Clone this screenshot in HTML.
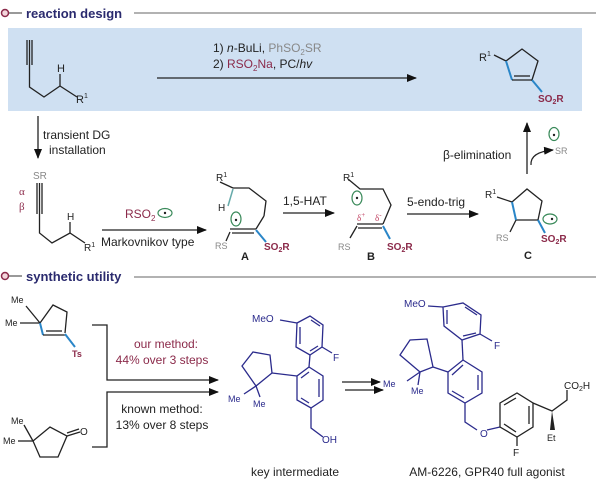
<!DOCTYPE html>
<html><head><meta charset="utf-8"><style>
html,body{margin:0;padding:0;background:#fff;}
svg{display:block;font-family:"Liberation Sans",sans-serif;}
</style></head><body>
<svg width="600" height="482" viewBox="0 0 600 482" xmlns="http://www.w3.org/2000/svg">
<defs>
<marker id="ah" markerWidth="10" markerHeight="8" refX="9" refY="4" orient="auto" markerUnits="userSpaceOnUse"><path d="M0,0 L10,4 L0,8 Z" fill="#111"/></marker>
</defs>
<rect width="600" height="482" fill="#fff"/>
<circle cx="5" cy="13" r="3.5" fill="#f3d6dc" stroke="#8b2a4a" stroke-width="1.5"/>
<line x1="9" y1="13" x2="22" y2="13" stroke="#555" stroke-width="1.2"/>
<text x="26" y="18" font-size="13" font-weight="bold" fill="#2a2a6e">reaction design</text>
<line x1="134" y1="13" x2="596" y2="13" stroke="#666" stroke-width="1"/>
<rect x="8" y="28" width="574" height="83" fill="#cfe0f2"/>
<g stroke="#222" stroke-width="1.3" fill="none">
<line x1="27" y1="40" x2="27" y2="65"/><line x1="29.5" y1="40" x2="29.5" y2="65"/><line x1="32" y1="40" x2="32" y2="65"/>
<polyline points="29.5,65 29.5,87 44,97 60,86 77,97"/>
<line x1="60" y1="74" x2="60" y2="86"/>
<line x1="157" y1="78" x2="416" y2="78" marker-end="url(#ah)"/>
</g>
<text x="57" y="72" font-size="11" fill="#222">H</text>
<text x="76" y="103" font-size="11" fill="#222">R<tspan font-size="7" dy="-5">1</tspan></text>
<text x="213" y="52" font-size="12" fill="#222">1) <tspan font-style="italic">n</tspan>-BuLi, <tspan fill="#888">PhSO<tspan font-size="8" dy="3">2</tspan><tspan dy="-3">SR</tspan></tspan></text>
<text x="213" y="68" font-size="12" fill="#222">2) <tspan fill="#8b2a4a">RSO<tspan font-size="8" dy="3">2</tspan><tspan dy="-3">Na</tspan></tspan>, PC/<tspan font-style="italic">hv</tspan></text>
<g stroke="#222" stroke-width="1.3" fill="none">
<polyline points="506,61 522,49 538,61 532,80"/>
<line x1="494" y1="55" x2="506" y2="61"/>
<line x1="514" y1="76" x2="530" y2="76"/>
</g>
<g stroke="#2a86c8" stroke-width="2" fill="none"><line x1="506" y1="61" x2="512" y2="80"/><line x1="532" y1="80" x2="542" y2="92"/></g>
<line x1="512" y1="80" x2="532" y2="80" stroke="#222" stroke-width="1.3"/>
<text x="479" y="61" font-size="11" fill="#222">R<tspan font-size="7" dy="-5">1</tspan></text>
<text x="538" y="102" font-size="10" font-weight="bold" fill="#8b2a4a">SO<tspan font-size="7" dy="2">2</tspan><tspan dy="-2">R</tspan></text>
<line x1="38" y1="116" x2="38" y2="158" stroke="#222" stroke-width="1.3" marker-end="url(#ah)"/>
<text x="43" y="139" font-size="12" fill="#222">transient DG</text>
<text x="49" y="154" font-size="12" fill="#222">installation</text>
<text x="33" y="179" font-size="10" fill="#888">SR</text>
<text x="19" y="195" font-size="11" fill="#8b2a4a" font-family="Liberation Serif,serif">α</text>
<text x="19" y="210" font-size="11" fill="#8b2a4a" font-family="Liberation Serif,serif">β</text>
<g stroke="#222" stroke-width="1.3" fill="none">
<line x1="37" y1="183" x2="37" y2="214"/><line x1="39.5" y1="183" x2="39.5" y2="214"/><line x1="42" y1="183" x2="42" y2="214"/>
<polyline points="39.5,214 39.5,233 52,243 70,233 85,243"/>
<line x1="70" y1="222" x2="70" y2="233"/>
<line x1="102" y1="230" x2="206" y2="230" marker-end="url(#ah)"/>
</g>
<text x="67" y="220" font-size="10" fill="#222">H</text>
<text x="84" y="251" font-size="10" fill="#222">R<tspan font-size="7" dy="-4">1</tspan></text>
<text x="125" y="218" font-size="12" fill="#8b2a4a">RSO<tspan font-size="8" dy="3">2</tspan></text>
<ellipse cx="165" cy="213" rx="7" ry="4.5" fill="none" stroke="#3a8a5a" stroke-width="1.2"/><circle cx="165" cy="213" r="1.2" fill="#222"/>
<text x="101" y="246" font-size="12" fill="#222">Markovnikov type</text>
<g stroke="#222" stroke-width="1.3" fill="none">
<polyline points="233,188 249,188 266,201 264,216"/>
<line x1="220" y1="182" x2="233" y2="188"/>
<line x1="230" y1="232" x2="226" y2="241"/>
</g>
<line x1="228" y1="206" x2="233" y2="189" stroke="#6aa" stroke-width="1.5"/>
<line x1="264" y1="216" x2="256" y2="229" stroke="#222" stroke-width="1.3"/>
<line x1="230" y1="229" x2="256" y2="229" stroke="#222" stroke-width="1.3"/>
<line x1="232" y1="233" x2="254" y2="233" stroke="#222" stroke-width="1.3"/>
<line x1="256" y1="230" x2="266" y2="242" stroke="#2a86c8" stroke-width="2"/>
<ellipse cx="236" cy="219" rx="5" ry="7" fill="none" stroke="#3a8a5a" stroke-width="1.2"/><circle cx="236" cy="220" r="1.2" fill="#222"/>
<text x="216" y="181" font-size="10" fill="#222">R<tspan font-size="7" dy="-4">1</tspan></text>
<text x="218" y="211" font-size="10" fill="#222">H</text>
<text x="215" y="249" font-size="9" fill="#888">RS</text>
<text x="264" y="250" font-size="10" font-weight="bold" fill="#8b2a4a">SO<tspan font-size="7" dy="2">2</tspan><tspan dy="-2">R</tspan></text>
<text x="241" y="260" font-size="11" font-weight="bold" fill="#222">A</text>
<line x1="283" y1="213" x2="334" y2="213" stroke="#222" stroke-width="1.3" marker-end="url(#ah)"/>
<text x="283" y="205" font-size="12" fill="#222">1,5-HAT</text>
<g stroke="#222" stroke-width="1.3" fill="none">
<polyline points="348,179 360,189 383,189 391,205 383,224"/>
<line x1="357" y1="224" x2="383" y2="224"/>
<line x1="358" y1="228" x2="382" y2="228"/>
<line x1="357" y1="226" x2="350" y2="238"/>
</g>
<line x1="383" y1="226" x2="390" y2="239" stroke="#2a86c8" stroke-width="2"/>
<ellipse cx="357" cy="198" rx="5" ry="7" fill="none" stroke="#3a8a5a" stroke-width="1.2"/><circle cx="357" cy="198" r="1.2" fill="#222"/>
<text x="343" y="181" font-size="10" fill="#222">R<tspan font-size="7" dy="-4">1</tspan></text>
<text x="357" y="221" font-size="9" fill="#c04060" font-family="Liberation Serif,serif">δ<tspan font-size="7" dy="-4">+</tspan></text>
<text x="375" y="221" font-size="9" fill="#c04060" font-family="Liberation Serif,serif">δ<tspan font-size="7" dy="-4">-</tspan></text>
<text x="338" y="250" font-size="9" fill="#888">RS</text>
<text x="387" y="250" font-size="10" font-weight="bold" fill="#8b2a4a">SO<tspan font-size="7" dy="2">2</tspan><tspan dy="-2">R</tspan></text>
<text x="367" y="260" font-size="11" font-weight="bold" fill="#222">B</text>
<line x1="407" y1="214" x2="478" y2="214" stroke="#222" stroke-width="1.3" marker-end="url(#ah)"/>
<text x="407" y="206" font-size="12" fill="#222">5-endo-trig</text>
<g stroke="#222" stroke-width="1.3" fill="none">
<polyline points="512,202 527,189 542,201 538,220 516,220"/>
<line x1="497" y1="197" x2="512" y2="202"/>
<line x1="516" y1="220" x2="510" y2="232"/>
</g>
<line x1="512" y1="202" x2="516" y2="220" stroke="#2a86c8" stroke-width="2"/>
<line x1="538" y1="220" x2="545" y2="233" stroke="#2a86c8" stroke-width="2"/>
<ellipse cx="550" cy="219" rx="7" ry="5" fill="none" stroke="#3a8a5a" stroke-width="1.2"/><circle cx="552" cy="219" r="1.2" fill="#222"/>
<text x="485" y="198" font-size="10" fill="#222">R<tspan font-size="7" dy="-4">1</tspan></text>
<text x="496" y="241" font-size="9" fill="#888">RS</text>
<text x="541" y="242" font-size="10" font-weight="bold" fill="#8b2a4a">SO<tspan font-size="7" dy="2">2</tspan><tspan dy="-2">R</tspan></text>
<text x="524" y="259" font-size="11" font-weight="bold" fill="#222">C</text>
<line x1="527" y1="174" x2="527" y2="123" stroke="#222" stroke-width="1.3" marker-end="url(#ah)"/>
<path d="M531,165 Q530,152 553,150" fill="none" stroke="#222" stroke-width="1.2" marker-end="url(#ah)"/>
<text x="443" y="159" font-size="12" fill="#222">β-elimination</text>
<text x="555" y="154" font-size="9" fill="#888">SR</text>
<ellipse cx="554" cy="134" rx="5" ry="6.5" fill="none" stroke="#3a8a5a" stroke-width="1.2"/><circle cx="554" cy="135" r="1.2" fill="#222"/>
<circle cx="5" cy="276" r="3.5" fill="#f3d6dc" stroke="#8b2a4a" stroke-width="1.5"/>
<line x1="9" y1="276" x2="22" y2="276" stroke="#555" stroke-width="1.2"/>
<text x="26" y="281" font-size="13" font-weight="bold" fill="#2a2a6e">synthetic utility</text>
<line x1="134" y1="277" x2="596" y2="277" stroke="#666" stroke-width="1"/>
<g stroke="#222" stroke-width="1.3" fill="none">
<polyline points="40,323 53,305 67,312 65,333"/>
<line x1="26" y1="306" x2="40" y2="323"/><line x1="20" y1="323" x2="40" y2="323"/>
<line x1="46" y1="331" x2="62" y2="331"/>
</g>
<line x1="40" y1="323" x2="43" y2="335" stroke="#2a86c8" stroke-width="2"/>
<line x1="43" y1="335" x2="65" y2="335" stroke="#222" stroke-width="1.3"/>
<line x1="65" y1="334" x2="75" y2="347" stroke="#2a86c8" stroke-width="2"/>
<text x="11" y="303" font-size="9" fill="#222">Me</text>
<text x="5" y="326" font-size="9" fill="#222">Me</text>
<text x="72" y="357" font-size="9" font-weight="bold" fill="#8b2a4a">Ts</text>
<g stroke="#222" stroke-width="1.3" fill="none">
<polygon points="33,441 50,427 67,436 58,457 40,457"/>
<line x1="24" y1="425" x2="33" y2="441"/><line x1="18" y1="441" x2="33" y2="441"/>
<line x1="67" y1="436" x2="80" y2="432"/><line x1="67" y1="433" x2="79" y2="429"/>
</g>
<text x="11" y="424" font-size="9" fill="#222">Me</text>
<text x="3" y="444" font-size="9" fill="#222">Me</text>
<text x="80" y="435" font-size="10" fill="#222">O</text>
<g stroke="#222" stroke-width="1.3" fill="none">
<polyline points="92,325 107,325 107,380 218,380" marker-end="url(#ah)"/>
<polyline points="92,447 107,447 107,392 218,392" marker-end="url(#ah)"/>
</g>
<text x="166" y="348" font-size="12" fill="#8b2a4a" text-anchor="middle">our method:</text>
<text x="162" y="364" font-size="12" fill="#8b2a4a" text-anchor="middle">44% over 3 steps</text>
<text x="162" y="413" font-size="12" fill="#222" text-anchor="middle">known method:</text>
<text x="162" y="429" font-size="12" fill="#222" text-anchor="middle">13% over 8 steps</text>
<g stroke="#2b2b8c" stroke-width="1.3" fill="none">
<polygon points="297,323 310,316 323,325 322,347 310,355 296,347"/>
<line x1="300" y1="327" x2="300" y2="344"/><line x1="311" y1="320" x2="320" y2="326"/><line x1="318" y1="346" x2="310" y2="351"/>
<line x1="280" y1="320" x2="297" y2="323"/>
<line x1="322" y1="347" x2="332" y2="353"/>
<line x1="310" y1="355" x2="309" y2="367"/>
<polygon points="309,367 323,376 323,400 311,408 297,400 297,376"/>
<line x1="319" y1="379" x2="319" y2="397"/><line x1="301" y1="378" x2="309" y2="372"/><line x1="301" y1="398" x2="309" y2="403"/>
<polyline points="311,408 311,428 323,437"/>
<line x1="297" y1="376" x2="272" y2="373"/>
<polygon points="272,373 270,355 253,352 242,366 256,386"/>
<line x1="256" y1="386" x2="244" y2="394"/><line x1="256" y1="386" x2="260" y2="397"/>
</g>
<text x="252" y="322" font-size="10" fill="#2b2b8c">MeO</text>
<text x="333" y="361" font-size="10" fill="#2b2b8c">F</text>
<text x="322" y="443" font-size="10" fill="#2b2b8c">OH</text>
<text x="228" y="402" font-size="9" fill="#2b2b8c">Me</text>
<text x="253" y="407" font-size="9" fill="#2b2b8c">Me</text>
<text x="295" y="476" font-size="12" fill="#222" text-anchor="middle">key intermediate</text>
<line x1="342" y1="382" x2="380" y2="382" stroke="#222" stroke-width="1.3" marker-end="url(#ah)"/>
<line x1="345" y1="390" x2="383" y2="390" stroke="#222" stroke-width="1.3" marker-end="url(#ah)"/>
<g stroke="#2b2b8c" stroke-width="1.3" fill="none">
<polygon points="443,307 463,303 481,315 480,334 462,340 444,326"/>
<line x1="447" y1="310" x2="447" y2="324"/><line x1="465" y1="307" x2="477" y2="315"/><line x1="476" y1="333" x2="463" y2="336"/>
<line x1="428" y1="306" x2="443" y2="307"/>
<line x1="480" y1="334" x2="492" y2="341"/>
<line x1="462" y1="340" x2="463" y2="360"/>
<polygon points="463,360 482,372 482,393 465,403 448,393 448,372"/>
<line x1="478" y1="375" x2="478" y2="390"/><line x1="452" y1="375" x2="463" y2="365"/><line x1="452" y1="391" x2="464" y2="398"/>
<line x1="448" y1="372" x2="433" y2="367"/>
<polygon points="433,367 427,339 410,340 400,355 420,372"/>
<line x1="420" y1="372" x2="407" y2="381"/><line x1="420" y1="372" x2="418" y2="385"/>
<polyline points="465,403 465,422 477,430"/>
<line x1="487" y1="430" x2="500" y2="427"/>
</g>
<g stroke="#222" stroke-width="1.3" fill="none">
<polygon points="500,403 517,393 533,403 533,427 517,437 500,427"/>
<line x1="504" y1="405" x2="516" y2="398"/><line x1="529" y1="406" x2="529" y2="424"/><line x1="504" y1="424" x2="516" y2="432"/>
<line x1="517" y1="437" x2="517" y2="446"/>
<polyline points="533,403 552,411 567,400 567,390"/>
</g>
<polygon points="552,411 550,430 555,430" fill="#222"/>
<text x="480" y="437" font-size="10" fill="#2b2b8c">O</text>
<text x="404" y="307" font-size="10" fill="#2b2b8c">MeO</text>
<text x="494" y="349" font-size="10" fill="#2b2b8c">F</text>
<text x="383" y="387" font-size="9" fill="#2b2b8c">Me</text>
<text x="411" y="394" font-size="9" fill="#2b2b8c">Me</text>
<text x="513" y="456" font-size="10" fill="#222">F</text>
<text x="547" y="441" font-size="9" fill="#222">Et</text>
<text x="564" y="389" font-size="10" fill="#222">CO<tspan font-size="7" dy="2">2</tspan><tspan dy="-2">H</tspan></text>
<text x="487" y="476" font-size="12" fill="#222" text-anchor="middle">AM-6226, GPR40 full agonist</text>
</svg>
</body></html>
